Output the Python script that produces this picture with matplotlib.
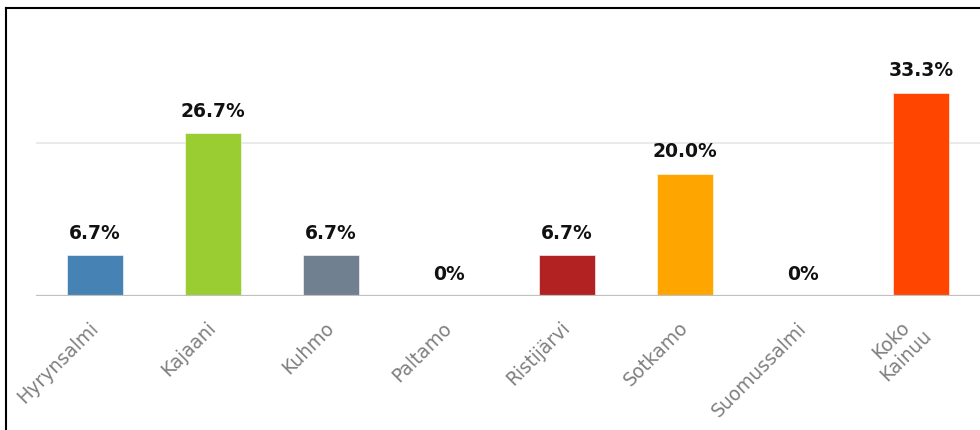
import numpy as np
import matplotlib
matplotlib.use("Agg")
import matplotlib.pyplot as plt
from matplotlib.lines import Line2D

# data
kunnat = ["Hyrynsalmi", "Kajaani", "Kuhmo", "Paltamo", "Ristijärvi",
          "Sotkamo", "Suomussalmi", "Koko\nKainuu"]
osuus = [6.7, 26.7, 6.7, 0.0, 6.7, 20.0, 0.0, 33.3]
labels = ["6.7%", "26.7%", "6.7%", "0%", "6.7%", "20.0%", "0%", "33.3%"]
colors = ["#4682B4", "#9ACD32", "#708090", "#8B8B8B", "#B22222",
          "#FFA500", "#5F9EA0", "#FF4500"]

fig = plt.figure(figsize=(9.8, 4.3), dpi=100)
ax = fig.add_axes([36/980, 1 - 296/430, 1 - 36/980, 288/430])

x = np.arange(len(kunnat))
ax.bar(x, osuus, width=0.475, color=colors, edgecolor="white", linewidth=0.4, zorder=3)

ax.set_xlim(-0.5, len(kunnat) - 0.5)
ax.set_ylim(0, 47.2)

# grid + baseline
ax.axhline(25, color="#e6e6e6", lw=1.2, zorder=1)
ax.axhline(0, color="#c0c0c0", lw=1.6, zorder=4)

for xi, v, t in zip(x, osuus, labels):
    ax.annotate(t, (xi, v), xytext=(0, 9), textcoords="offset points",
                ha="center", va="bottom", fontsize=13.5, fontweight="heavy",
                color="#111111")

ax.set_xticks(x)
ax.set_xticklabels(kunnat, rotation=45, ha="right", va="center",
                   rotation_mode="anchor", fontsize=13.5, color="#808080",
                   multialignment="center")
ax.tick_params(axis="x", length=0, pad=21)
ax.set_yticks([])
for s in ax.spines.values():
    s.set_visible(False)

# frame round the chart (top and left visible)
fig.add_artist(Line2D([6/980, 1], [1 - 8/430, 1 - 8/430], transform=fig.transFigure,
                      color="black", lw=1.5))
fig.add_artist(Line2D([6/980, 6/980], [0, 1 - 8/430], transform=fig.transFigure,
                      color="black", lw=1.5))

fig.savefig("out.png", dpi=100)
